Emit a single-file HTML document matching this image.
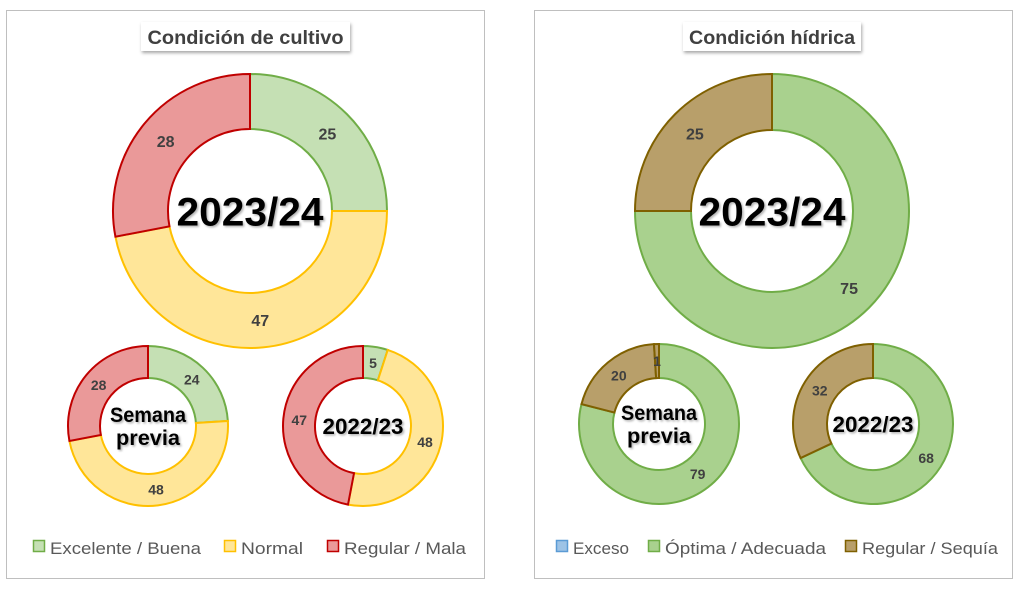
<!DOCTYPE html>
<html><head><meta charset="utf-8"><style>
body{margin:0;background:#fff;width:1024px;height:590px;overflow:hidden;font-family:"Liberation Sans",sans-serif}
svg{position:absolute;left:0;top:0}
</style></head><body>
<svg id="c" width="1024" height="590" xmlns="http://www.w3.org/2000/svg">
<defs><filter id="sh" x="-20%" y="-20%" width="140%" height="160%"><feDropShadow dx="1" dy="2" stdDeviation="1.5" flood-color="#000" flood-opacity="0.35"/></filter>
<filter id="tsh"><feDropShadow dx="1.5" dy="1.5" stdDeviation="1" flood-color="#000" flood-opacity="0.3"/></filter></defs>
<rect x="6.5" y="10.5" width="478" height="568" fill="#fff" stroke="#bfbfbf"/>
<rect x="534.5" y="10.5" width="478" height="568" fill="#fff" stroke="#bfbfbf"/>
<g><rect x="141" y="22" width="209" height="29" fill="#fff" filter="url(#sh)"/>
<text x="245.5" y="44" text-anchor="middle" font-size="19" font-weight="bold" fill="#404040" textLength="196" lengthAdjust="spacingAndGlyphs">Condición de cultivo</text></g>
<g><rect x="683" y="22" width="178" height="29" fill="#fff" filter="url(#sh)"/>
<text x="772" y="44" text-anchor="middle" font-size="19" font-weight="bold" fill="#404040" textLength="166" lengthAdjust="spacingAndGlyphs">Condición hídrica</text></g>
<g id="g"></g>
<g font-size="17" fill="#595959">
<rect x="33.5" y="540.5" width="11" height="11" fill="#C5E0B4" stroke="#70AD47" stroke-width="1.5"/><text x="50" y="554" textLength="151" lengthAdjust="spacingAndGlyphs">Excelente / Buena</text>
<rect x="224.5" y="540.5" width="11" height="11" fill="#FFE699" stroke="#FFC000" stroke-width="1.5"/><text x="241" y="554" textLength="62" lengthAdjust="spacingAndGlyphs">Normal</text>
<rect x="327.5" y="540.5" width="11" height="11" fill="#EA9999" stroke="#C00000" stroke-width="1.5"/><text x="344" y="554" textLength="122" lengthAdjust="spacingAndGlyphs">Regular / Mala</text>
</g>
<g font-size="17" fill="#595959">
<rect x="556.5" y="540.5" width="11" height="11" fill="#9DC3E6" stroke="#5B9BD5" stroke-width="1.5"/><text x="573" y="554" textLength="56" lengthAdjust="spacingAndGlyphs">Exceso</text>
<rect x="648.5" y="540.5" width="11" height="11" fill="#A9D18E" stroke="#70AD47" stroke-width="1.5"/><text x="665" y="554" textLength="161" lengthAdjust="spacingAndGlyphs">Óptima / Adecuada</text>
<rect x="845.5" y="540.5" width="11" height="11" fill="#B89F6A" stroke="#7F6000" stroke-width="1.5"/><text x="862" y="554" textLength="136" lengthAdjust="spacingAndGlyphs">Regular / Sequía</text>
</g>
</svg>
<script>
const cropCats=["Excelente / Buena","Normal","Regular / Mala"];
const crop2324=[25,47,28];
const cropPrev=[24,48,28];
const crop2223=[5,48,47];
const waterCats=["Óptima / Adecuada","Regular / Sequía","Exceso"];
const water2324=[75,25,0];
const waterPrev=[79,20,1];
const water2223=[68,32,0];
const cropFill=["#C5E0B4","#FFE699","#EA9999"],cropStroke=["#70AD47","#FFC000","#C00000"];
const waterFill=["#A9D18E","#B89F6A","#B89F6A"],waterStroke=["#70AD47","#7F6000","#7F6000"];
const NS="http://www.w3.org/2000/svg",G=document.getElementById('g');
function pt(cx,cy,r,a){return [cx+r*Math.sin(a),cy-r*Math.cos(a)];}
function donut(name,cx,cy,R,r,vals,fills,strokes,fs,center,cfs,cw){
  const tot=vals.reduce((a,b)=>a+b,0);let a0=0;
  vals.forEach((v,i)=>{
    if(v<=0)return;
    const a1=a0+v/tot*2*Math.PI,lg=(a1-a0)>Math.PI?1:0;
    const p1=pt(cx,cy,R,a0),p2=pt(cx,cy,R,a1),p3=pt(cx,cy,r,a1),p4=pt(cx,cy,r,a0);
    const p=document.createElementNS(NS,'path');
    p.setAttribute('d',`M${p1}A${R},${R} 0 ${lg} 1 ${p2}L${p3}A${r},${r} 0 ${lg} 0 ${p4}Z`);
    p.setAttribute('fill',fills[i]);p.setAttribute('stroke',strokes[i]);p.setAttribute('stroke-width','2');
    
    
    G.appendChild(p);
    const am=(a0+a1)/2,lp=pt(cx,cy,(R+r)/2,am);
    const t=document.createElementNS(NS,'text');
    t.setAttribute('x',lp[0]);t.setAttribute('y',lp[1]+fs*0.36);t.setAttribute('text-anchor','middle');
    t.setAttribute('font-size',fs);t.setAttribute('font-weight','bold');t.setAttribute('fill','#404040');
    t.textContent=v;
    
    
    G.appendChild(t);
    a0=a1;
  });
  const lines=center.split('\n');
  lines.forEach((ln,k)=>{
    const t=document.createElementNS(NS,'text');
    t.setAttribute('x',cx);t.setAttribute('y',cy+cfs*0.36+(k-(lines.length-1)/2)*cfs*1.1);
    t.setAttribute('text-anchor','middle');t.setAttribute('font-size',cfs);t.setAttribute('font-weight','bold');
    t.setAttribute('fill','#000');t.setAttribute('filter','url(#tsh)');t.textContent=ln;
    if(cw[k]){t.setAttribute('textLength',cw[k]);t.setAttribute('lengthAdjust','spacingAndGlyphs');}
    
    
    G.appendChild(t);
  });
}
donut('crop-2023-24',250,211,137,82,crop2324,cropFill,cropStroke,16,'2023/24',40,[147]);
donut('crop-prev',148,426,80,48,cropPrev,cropFill,cropStroke,14,'Semana\nprevia',21,[76,64]);
donut('crop-2022-23',363,426,80,48,crop2223,cropFill,cropStroke,14,'2022/23',22,[81]);
donut('water-2023-24',772,211,137,81,water2324,waterFill,waterStroke,16,'2023/24',40,[147]);
donut('water-prev',659,424,80,46,waterPrev,waterFill,waterStroke,14,'Semana\nprevia',21,[76,64]);
donut('water-2022-23',873,424,80,46,water2223,waterFill,waterStroke,14,'2022/23',22,[81]);
</script>
</body></html>
